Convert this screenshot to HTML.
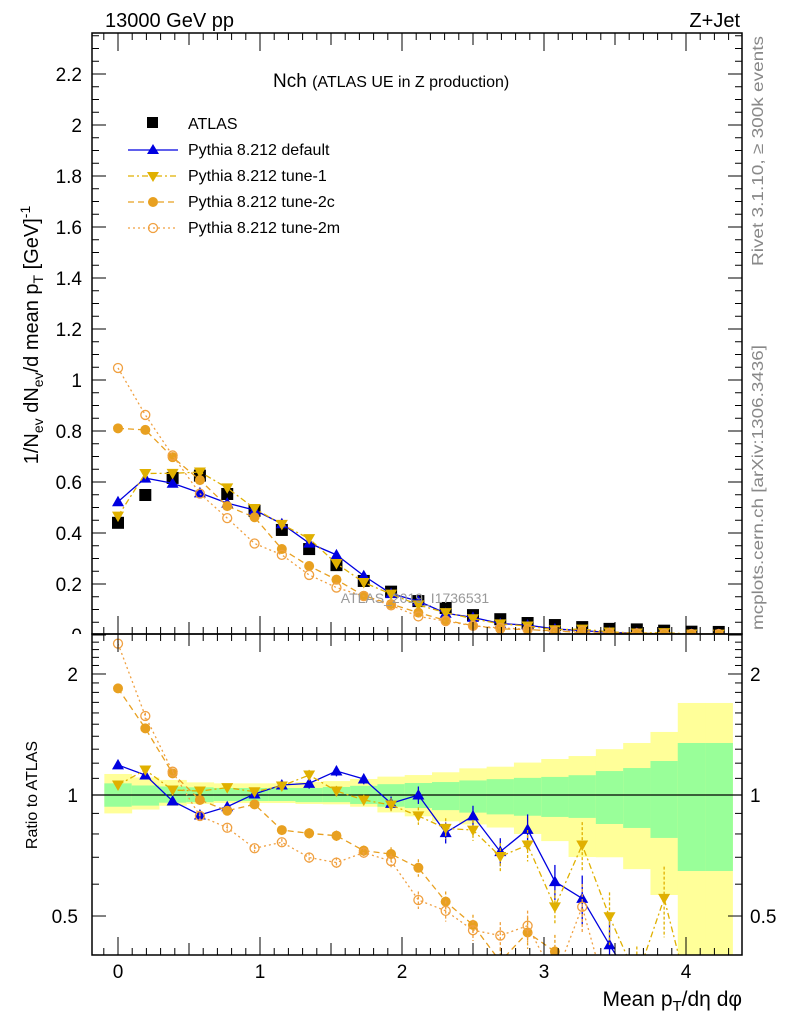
<!DOCTYPE html>
<html><head><meta charset="utf-8"><style>
html,body{margin:0;padding:0;background:#fff;width:786px;height:1024px;overflow:hidden;position:relative}
svg{display:block;font-family:"Liberation Sans",Arial,sans-serif}
</style></head><body>
<svg id="c" width="786" height="1024" viewBox="0 0 786 1024" style="position:absolute;left:0;top:0"></svg>
<script>
const xVals=[0,0.1923,0.3846,0.5769,0.7692,0.9615,1.1538,1.3461,1.5384,1.7307,1.923,2.1153,2.3076,2.4999,2.6922,2.8845,3.0768,3.2691,3.4614,3.6537,3.846,4.0383,4.2306];
const atlas=[0.44,0.549,0.616,0.625,0.553,0.487,0.412,0.337,0.274,0.212,0.170,0.133,0.106,0.078,0.062,0.047,0.039,0.031,0.024,0.022,0.017,0.013,0.012];
const ratioDefault=[1.188,1.121,0.966,0.892,0.935,1.006,1.059,1.069,1.147,1.096,0.953,1.0,0.806,0.887,0.723,0.821,0.609,0.553,0.424,0.33,0.25,0.25,0.25];
const ratioTune1=[1.059,1.154,1.029,1.023,1.043,1.019,1.053,1.121,1.023,0.972,0.944,0.887,0.826,0.818,0.703,0.751,0.527,0.751,0.498,0.35,0.553,0.3,0.3];
const ratioTune2c=[1.842,1.465,1.132,0.972,0.914,0.948,0.818,0.803,0.792,0.727,0.713,0.659,0.543,0.475,0.385,0.455,0.408,0.3,0.3,0.3,0.3,0.3,0.3];
const ratioTune2m=[2.38,1.572,1.143,0.887,0.829,0.737,0.763,0.699,0.679,0.719,0.685,0.548,0.515,0.461,0.447,0.473,0.35,0.527,0.3,0.3,0.3,0.3,0.3];
const relErr=[0.02,0.02,0.015,0.02,0.02,0.02,0.02,0.03,0.03,0.03,0.04,0.05,0.06,0.06,0.08,0.09,0.1,0.14,0.15,0.2,0.2,0.2,0.2];
const bandYelUp=[1.128,1.106,1.090,1.075,1.069,1.069,1.069,1.077,1.083,1.096,1.111,1.121,1.139,1.165,1.176,1.204,1.229,1.25,1.30,1.347,1.435,1.694,1.694];
const bandYelLo=[0.90,0.92,0.94,0.95,0.955,0.955,0.955,0.95,0.948,0.935,0.905,0.885,0.86,0.845,0.83,0.80,0.768,0.701,0.70,0.654,0.564,0.38,0.38];
const bandGrnUp=[1.069,1.056,1.050,1.045,1.041,1.041,1.041,1.041,1.047,1.054,1.064,1.071,1.077,1.087,1.095,1.103,1.109,1.12,1.147,1.167,1.215,1.347,1.347];
const bandGrnLo=[0.935,0.941,0.957,0.96,0.966,0.966,0.966,0.96,0.96,0.95,0.935,0.928,0.917,0.904,0.895,0.888,0.882,0.877,0.847,0.828,0.782,0.647,0.647];
const mainYTicks=["0","0.2","0.4","0.6","0.8","1","1.2","1.4","1.6","1.8","2","2.2"];
const ratioYTicks=[0.5,1,2];
const xTicks=[0,1,2,3,4];

const S=document.getElementById('c');const NS='http://www.w3.org/2000/svg';
function mk(t,a,p){const e=document.createElementNS(NS,t);for(const k in a)e.setAttribute(k,a[k]);(p||S).appendChild(e);return e;}
const L=92,R=742,MT=33,MB=634,RB=955;
const X=v=>118+(v)*142;
const YM=v=>635-255*v;
const YR=r=>795-402*Math.log10(r);
const halfBin=0.0962;
const defs=mk('defs',{});
const c1=mk('clipPath',{id:'cm'},defs);mk('rect',{x:L,y:MT,width:R-L,height:MB-MT},c1);
const c2=mk('clipPath',{id:'cr'},defs);mk('rect',{x:L,y:MB,width:R-L,height:RB-MB},c2);
const c3=mk('clipPath',{id:'cl'},defs);mk('rect',{x:0,y:0,width:92,height:MB},c3);
const gM=mk('g',{'clip-path':'url(#cm)'});
const gR=mk('g',{'clip-path':'url(#cr)'});
for(let i=0;i<xVals.length;i++){
 const x0=X(xVals[i]-halfBin),x1=X(xVals[i]+halfBin);
 const y=mk('rect',{x:x0,y:YR(bandYelUp[i]),width:x1-x0+0.5,height:YR(bandYelLo[i])-YR(bandYelUp[i]),fill:'#ffff99'},gR);
 
 const g=mk('rect',{x:x0,y:YR(bandGrnUp[i]),width:x1-x0+0.5,height:YR(bandGrnLo[i])-YR(bandGrnUp[i]),fill:'#99ff99'},gR);
 
}
mk('line',{x1:L,x2:R,y1:YR(1),y2:YR(1),stroke:'#000','stroke-width':1.2},gR);
const wm=mk('text',{x:415,y:603,'font-size':14,fill:'#999','text-anchor':'middle'});wm.textContent='ATLAS_2019_I1736531';

const series=[
 {name:'default',r:ratioDefault,col:'#0000e0',dash:'',m:'tri'},
 {name:'tune-1',r:ratioTune1,col:'#e0b000',dash:'6,3,2,3',m:'itri'},
 {name:'tune-2c',r:ratioTune2c,col:'#e8a020',dash:'6,4',m:'dot'},
 {name:'tune-2m',r:ratioTune2m,col:'#f0a040',dash:'2,3',m:'odot'}];
function marker(g,m,x,y,col,s){
 s=s||1;
 if(m==='tri')return mk('path',{d:`M${x},${y-6*s}L${x+6*s},${y+4.5*s}L${x-6*s},${y+4.5*s}Z`,fill:col},g);
 if(m==='itri')return mk('path',{d:`M${x},${y+6*s}L${x+6*s},${y-4.5*s}L${x-6*s},${y-4.5*s}Z`,fill:col},g);
 if(m==='dot')return mk('circle',{cx:x,cy:y,r:5*s,fill:col},g);
 if(m==='odot')return mk('circle',{cx:x,cy:y,r:4.5*s,fill:'none',stroke:col,'stroke-width':1.3},g);
 if(m==='sq')return mk('rect',{x:x-6*s,y:y-6*s,width:12*s,height:12*s,fill:col},g);
}
atlas.forEach((v,i)=>{const e=marker(gM,'sq',X(xVals[i]),YM(v),'#000');});
series.forEach(s=>{
 const mv=atlas.map((d,i)=>d*s.r[i]);
 const pm=mk('polyline',{points:mv.map((v,i)=>X(xVals[i])+','+YM(v)).join(' '),fill:'none',stroke:s.col,'stroke-width':1.3,'stroke-dasharray':s.dash},gM);
 
 const pr=mk('polyline',{points:s.r.map((v,i)=>X(xVals[i])+','+YR(v)).join(' '),fill:'none',stroke:s.col,'stroke-width':1.3,'stroke-dasharray':s.dash},gR);
 
 mv.forEach((v,i)=>{const e=marker(gM,s.m,X(xVals[i]),YM(v),s.col);});
 s.r.forEach((v,i)=>{
  const x=X(xVals[i]);const er=v*relErr[i];
  const b=mk('line',{x1:x,x2:x,y1:YR(v+er),y2:YR(Math.max(v-er,0.05)),stroke:s.col,'stroke-width':1.3,'stroke-dasharray':s.dash?'3,2':''},gR);
  
  const e=marker(gR,s.m,x,YR(v),s.col);
 });
});
mk('rect',{x:L,y:MT,width:R-L,height:MB-MT,fill:'none',stroke:'#000','stroke-width':1.5});
mk('rect',{x:L,y:MB,width:R-L,height:RB-MB,fill:'none',stroke:'#000','stroke-width':1.5});
function ln(x1,y1,x2,y2){mk('line',{x1,y1,x2,y2,stroke:'#000','stroke-width':1});}
for(let v=0;v<=2.36;v+=0.05){const y=YM(v);if(y<MT)break;const big=Math.abs(v/0.2-Math.round(v/0.2))<1e-6;const len=big?14:7;ln(L,y,L+len,y);ln(R,y,R-len,y);}
const gl=mk('g',{'clip-path':'url(#cl)'});
mainYTicks.forEach((t,i)=>{const e=mk('text',{x:82,y:YM(i*0.2)+7,'font-size':19,'text-anchor':'end'},gl);e.textContent=t;});
for(let r=0.4;r<=2.5;r+=0.1){const y=YR(r);if(y<MB||y>RB)continue;const big=[0.5,1,2].some(q=>Math.abs(q-r)<1e-6);const len=big?14:7;ln(L,y,L+len,y);ln(R,y,R-len,y);}
ratioYTicks.forEach(r=>{
 const a=mk('text',{x:78,y:YR(r)+7,'font-size':19,'text-anchor':'end'});a.textContent=String(r);
 const b=mk('text',{x:750,y:YR(r)+7,'font-size':19});b.textContent=String(r);
});
for(let k=-1;k<=43;k++){const v=k/10;const x=X(v);if(x<L||x>R)continue;const big=k%10===0;const med=k%5===0;const len=big?18:(med?12:7);
 ln(x,MB,x,MB-len);ln(x,MT,x,MT+len);ln(x,RB,x,RB-len);ln(x,MB,x,MB+len);}
xTicks.forEach(v=>{const e=mk('text',{x:X(v),y:978,'font-size':19,'text-anchor':'middle'});e.textContent=String(v);});
</script>
<svg width="786" height="1024" style="position:absolute;left:0;top:0">
<g font-family="Liberation Sans, Arial, sans-serif">
<text x="105" y="27" font-size="20">13000 GeV pp</text>
<text x="740" y="27" font-size="20" text-anchor="end">Z+Jet</text>
<text x="273" y="87" font-size="19">Nch <tspan font-size="16">(ATLAS UE in Z production)</tspan></text>
<g font-size="16">
<rect x="147" y="117" width="11" height="11" fill="#000"/><text x="188" y="129">ATLAS</text>
<line x1="128" x2="178" y1="150" y2="150" stroke="#0000e0" stroke-width="1.3"/><path d="M153,144L159,154L147,154Z" fill="#0000e0"/><text x="188" y="155">Pythia 8.212 default</text>
<line x1="128" x2="178" y1="176" y2="176" stroke="#e0b000" stroke-width="1.3" stroke-dasharray="6,3,2,3"/><path d="M153,182L159,172L147,172Z" fill="#e0b000"/><text x="188" y="181">Pythia 8.212 tune-1</text>
<line x1="128" x2="178" y1="202" y2="202" stroke="#e8a020" stroke-width="1.3" stroke-dasharray="6,4"/><circle cx="153" cy="202" r="5" fill="#e8a020"/><text x="188" y="207">Pythia 8.212 tune-2c</text>
<line x1="128" x2="178" y1="228" y2="228" stroke="#f0a040" stroke-width="1.3" stroke-dasharray="2,3"/><circle cx="153" cy="228" r="4.5" fill="none" stroke="#f0a040" stroke-width="1.3"/><text x="188" y="233">Pythia 8.212 tune-2m</text>
</g>
<text transform="translate(38,335) rotate(-90)" font-size="20" text-anchor="middle">1/N<tspan font-size="14" dy="5">ev</tspan><tspan dy="-5"> dN</tspan><tspan font-size="14" dy="5">ev</tspan><tspan dy="-5">/d mean p</tspan><tspan font-size="14" dy="5">T</tspan><tspan dy="-5"> [GeV]</tspan><tspan font-size="14" dy="-8">-1</tspan></text>
<text transform="translate(37,795) rotate(-90)" font-size="16" text-anchor="middle">Ratio to ATLAS</text>
<text x="742" y="1006" font-size="21" text-anchor="end">Mean p<tspan font-size="15" dy="5">T</tspan><tspan dy="-5">/dη dφ</tspan></text>
<text transform="translate(763,266) rotate(-90)" font-size="16" fill="#888" textLength="230" lengthAdjust="spacingAndGlyphs">Rivet 3.1.10, ≥ 300k events</text>
<text transform="translate(763,630) rotate(-90)" font-size="16" fill="#888" textLength="285" lengthAdjust="spacingAndGlyphs">mcplots.cern.ch [arXiv:1306.3436]</text>
</g></svg>
</body></html>
